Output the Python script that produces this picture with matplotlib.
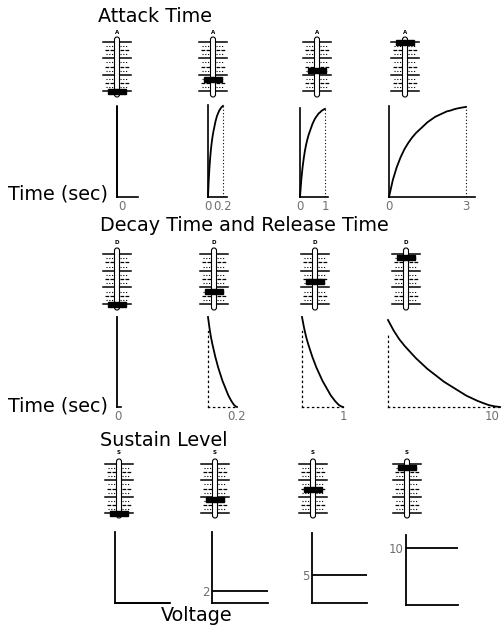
import numpy as np
import matplotlib
matplotlib.use("Agg")
import matplotlib.pyplot as plt
from matplotlib.patches import FancyBboxPatch, Rectangle

W, H = 502, 628

# --- datos ---
attack_times = [0, 0.2, 1, 3]
attack_labels = [["0"], ["0", "0.2"], ["0", "1"], ["0", "3"]]
decay_times = [0, 0.2, 1, 10]
decay_labels = [["0"], ["0.2"], ["1"], ["10"]]
sustain_levels = [0, 2, 5, 10]
sustain_labels = [[], ["2"], ["5"], ["10"]]

# posicion del mando (0 = abajo, 1 = arriba)
attack_knob = [0.0, 0.24, 0.41, 0.98]
decay_knob = [0.0, 0.25, 0.45, 0.94]
sustain_knob = [0.0, 0.27, 0.47, 0.92]

# forma de las curvas (nivel cada 5% del tiempo)
attack_shape = [0, 0.19, 0.33, 0.44, 0.53, 0.60, 0.66, 0.71, 0.75, 0.79, 0.83,
                0.86, 0.89, 0.91, 0.93, 0.95, 0.96, 0.975, 0.985, 0.993, 1.0]
decay_shape = [1.0, 0.88, 0.78, 0.70, 0.63, 0.56, 0.50, 0.44, 0.39, 0.34, 0.29,
               0.25, 0.21, 0.17, 0.13, 0.10, 0.07, 0.045, 0.022, 0.008, 0.0]

# --- layout en pixeles ---
slider_rows = [
    dict(letter="A", xs=[117, 213, 317, 405], letter_y=32, rod=(37, 97), track=(42, 91), knob=attack_knob),
    dict(letter="D", xs=[117, 214, 315, 406], letter_y=243, rod=(248, 310), track=(254, 304), knob=decay_knob),
    dict(letter="S", xs=[119, 215, 313, 407], letter_y=453, rod=(459, 518), track=(464, 513), knob=sustain_knob),
]
attack_boxes = [(117, 106, 138, 197), (208, 105, 227, 197), (300, 108, 328, 197), (389, 106, 475, 197)]
attack_end = [None, 223, 325, 466]
decay_boxes = [(117, 317, 121, 407), (208, 317, 237, 407), (302, 317, 343, 407), (388, 320, 500, 407)]
sustain_boxes = [(115, 532, 170, 603), (212, 532, 268, 603), (312, 533, 367, 603), (406, 535, 458, 605)]

TICK_COLOR = "#707070"
FONT = "DejaVu Sans"
TITLE_SIZE = 13.8


def px_axes(fig, box):
    left, top, right, bottom = box
    ax = fig.add_axes([left / W, 1 - bottom / H, (right - left) / W, (bottom - top) / H])
    ax.patch.set_visible(False)
    for s in ax.spines.values():
        s.set_visible(False)
    ax.tick_params(length=0, labelsize=8.5, labelcolor=TICK_COLOR, pad=2)
    ax.set_xticks([])
    ax.set_yticks([])
    return ax


def draw_slider(ax, cx, letter, letter_y, rod, track, value):
    ax.text(cx, letter_y, letter, fontsize=4, fontweight="bold", ha="center", va="center")
    n = 13
    for i in range(n):
        y = track[0] + (track[1] - track[0]) * i / (n - 1)
        if i % 4 == 0:
            kw = dict(lw=1.1, ls="-")
            ext = 14
        elif i % 2 == 0:
            kw = dict(lw=0.9, ls=(0, (3, 1)))
            ext = 12
        else:
            kw = dict(lw=0.8, ls=(0, (1, 1.5)))
            ext = 11
        ax.plot([cx - ext, cx - 3], [y, y], color="black", zorder=2, **kw)
        ax.plot([cx + 3, cx + ext], [y, y], color="black", zorder=2, **kw)
    rod_patch = FancyBboxPatch((cx - 2.5, rod[0]), 5, rod[1] - rod[0],
                               boxstyle="round,pad=0,rounding_size=2.5",
                               fc="white", ec="black", lw=0.8, zorder=3)
    ax.add_patch(rod_patch)
    ky = track[1] - value * (track[1] - track[0])
    ax.add_patch(Rectangle((cx - 9, ky - 2.5), 18, 5, color="black", zorder=4))


fig = plt.figure(figsize=(W / 100, H / 100), dpi=100)
ov = fig.add_axes([0, 0, 1, 1])
ov.set_xlim(0, W)
ov.set_ylim(H, 0)
ov.axis("off")

# titulos
ov.text(98, 22, "Attack Time", fontsize=TITLE_SIZE, family=FONT, va="baseline")
ov.text(100, 231, "Decay Time and Release Time", fontsize=TITLE_SIZE, family=FONT, va="baseline")
ov.text(100, 446, "Sustain Level", fontsize=TITLE_SIZE, family=FONT, va="baseline")
ov.text(8, 199, "Time (sec)", fontsize=TITLE_SIZE, family=FONT, va="baseline")
ov.text(8, 412, "Time (sec)", fontsize=TITLE_SIZE, family=FONT, va="baseline")
ov.text(197, 621, "Voltage", fontsize=TITLE_SIZE, family=FONT, va="baseline", ha="center")

# sliders
for row in slider_rows:
    for cx, v in zip(row["xs"], row["knob"]):
        draw_slider(ov, cx, row["letter"], row["letter_y"], row["rod"], row["track"], v)

frac = np.linspace(0, 1, len(attack_shape))

# Attack
for box, end, T, labels in zip(attack_boxes, attack_end, attack_times, attack_labels):
    ax = px_axes(fig, box)
    left, top, right, bottom = box
    xmax = T * (right - left) / (end - left) if T > 0 else 1
    ax.set_xlim(0, xmax)
    ax.set_ylim(0, 1.01)
    for side in ("left", "bottom"):
        ax.spines[side].set_visible(True)
        ax.spines[side].set_linewidth(1.2)
    ax.plot(frac * T, attack_shape, color="black", lw=1.3, clip_on=False)
    if T > 0:
        ax.vlines(T, 0, 1, colors="black", lw=0.8, linestyles=(0, (1, 2)))
        ax.set_xticks([0, T], labels)
    else:
        ax.set_xticks([0.25], labels)

# Decay / Release
for box, T, labels in zip(decay_boxes, decay_times, decay_labels):
    ax = px_axes(fig, box)
    if T > 0:
        ax.set_xlim(0, T)
        ax.set_ylim(0, 1)
        for side in ("left", "bottom"):
            ax.spines[side].set_visible(True)
            ax.spines[side].set_linewidth(0.9)
            ax.spines[side].set_linestyle((0, (1, 3)))
        ax.spines["left"].set_bounds(0, 0.85)
        ax.plot(frac * T, decay_shape, color="black", lw=1.3, clip_on=False)
        ax.set_xticks([T], labels)
    else:
        ax.set_xlim(0, 1)
        ax.set_ylim(0, 1)
        ax.spines["bottom"].set_visible(True)
        ax.spines["bottom"].set_linewidth(1.2)
        ax.plot(frac * T, decay_shape, color="black", lw=1.3, clip_on=False)
        ax.set_xticks([0.3], labels)

# la ultima etiqueta ("10") toca el borde derecho
for lbl in ax.get_xticklabels():
    lbl.set_horizontalalignment("right")

# Sustain
for box, level, labels in zip(sustain_boxes, sustain_levels, sustain_labels):
    ax = px_axes(fig, box)
    ax.set_xlim(0, 1)
    ax.set_ylim(0, 12.3)
    for side in ("left", "bottom"):
        ax.spines[side].set_visible(True)
        ax.spines[side].set_linewidth(1.3)
    ax.hlines(level, 0, 1, colors="black", lw=1.3, clip_on=False)
    if labels:
        ax.set_yticks([level], labels)

fig.savefig("out.png", dpi=100)
